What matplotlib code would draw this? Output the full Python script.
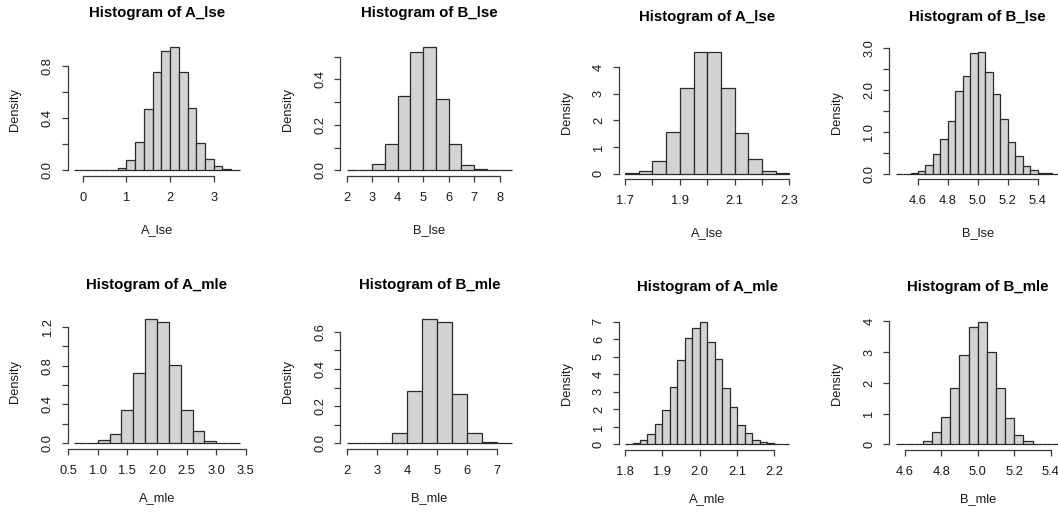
import numpy as np
import matplotlib
matplotlib.use('Agg')
import matplotlib.pyplot as plt

plt.rcParams['font.family'] = ['Liberation Sans', 'DejaVu Sans']

# ---- data (R hist() output: breaks start, bin width, densities) ----
titles = ["Histogram of A_lse", "Histogram of B_lse", "Histogram of A_lse", "Histogram of B_lse",
          "Histogram of A_mle", "Histogram of B_mle", "Histogram of A_mle", "Histogram of B_mle"]
xlabels = ["A_lse", "B_lse", "A_lse", "B_lse", "A_mle", "B_mle", "A_mle", "B_mle"]

bin_start = [-0.2, 2.0, 1.70, 4.45, 0.6, 2.0, 1.80, 4.55]
bin_width = [0.2, 0.5, 0.05, 0.05, 0.2, 0.5, 0.02, 0.05]

dens_a_lse_1 = [0, 0, 0, 0, 0.005, 0.015, 0.08, 0.22, 0.475, 0.755, 0.92, 0.945,
                0.755, 0.48, 0.213, 0.09, 0.033, 0.01, 0.002]
dens_b_lse_1 = [0, 0.003, 0.03, 0.118, 0.325, 0.52, 0.541, 0.312, 0.118, 0.025,
                0.004, 0.001, 0]
dens_a_lse_2 = [0.04, 0.11, 0.47, 1.57, 3.21, 4.57, 4.59, 3.21, 1.53, 0.54, 0.11, 0.02]
dens_b_lse_2 = [0, 0, 0.015, 0.06, 0.21, 0.48, 0.835, 1.265, 1.965, 2.32, 2.865, 2.91,
                2.42, 1.91, 1.31, 0.75, 0.41, 0.175, 0.095, 0.025, 0.015, 0]
dens_a_mle_1 = [0, 0, 0.034, 0.093, 0.348, 0.724, 1.276, 1.245, 0.803, 0.348, 0.124,
                0.024, 0.003, 0]
dens_b_mle_1 = [0, 0, 0.004, 0.058, 0.279, 0.667, 0.654, 0.265, 0.058, 0.005, 0]
dens_a_mle_2 = [0.02, 0.1, 0.23, 0.61, 1.15, 1.96, 3.30, 4.80, 6.08, 6.64, 6.99, 5.85,
                4.89, 3.24, 2.11, 1.09, 0.67, 0.27, 0.12, 0.06, 0.02, 0.0]
dens_b_mle_2 = [0, 0, 0.02, 0.1, 0.41, 0.9, 1.82, 2.91, 3.83, 3.98, 3.0, 1.82, 0.86,
                0.32, 0.1, 0.03, 0.005, 0]
densities = [dens_a_lse_1, dens_b_lse_1, dens_a_lse_2, dens_b_lse_2,
             dens_a_mle_1, dens_b_mle_1, dens_a_mle_2, dens_b_mle_2]

xticks = [[0, 1, 2, 3],
          [2, 3, 4, 5, 6, 7, 8],
          [1.7, 1.8, 1.9, 2.0, 2.1, 2.2, 2.3],
          [4.6, 4.8, 5.0, 5.2, 5.4],
          [0.5, 1.0, 1.5, 2.0, 2.5, 3.0, 3.5],
          [2, 3, 4, 5, 6, 7],
          [1.8, 1.9, 2.0, 2.1, 2.2],
          [4.6, 4.8, 5.0, 5.2, 5.4]]
xticklabels = [["0", "1", "2", "3"],
               ["2", "3", "4", "5", "6", "7", "8"],
               ["1.7", "", "1.9", "", "2.1", "", "2.3"],
               ["4.6", "4.8", "5.0", "5.2", "5.4"],
               ["0.5", "1.0", "1.5", "2.0", "2.5", "3.0", "3.5"],
               ["2", "3", "4", "5", "6", "7"],
               ["1.8", "1.9", "2.0", "2.1", "2.2"],
               ["4.6", "4.8", "5.0", "5.2", "5.4"]]
yticks = [[0, 0.2, 0.4, 0.6, 0.8],
          [0, 0.1, 0.2, 0.3, 0.4, 0.5],
          [0, 1, 2, 3, 4],
          [0, 0.5, 1.0, 1.5, 2.0, 2.5, 3.0],
          [0, 0.2, 0.4, 0.6, 0.8, 1.0, 1.2],
          [0, 0.1, 0.2, 0.3, 0.4, 0.5, 0.6],
          [0, 1, 2, 3, 4, 5, 6, 7],
          [0, 1, 2, 3, 4]]
yticklabels = [["0.0", "", "0.4", "", "0.8"],
               ["0.0", "", "0.2", "", "0.4", ""],
               ["0", "1", "2", "3", "4"],
               ["0.0", "", "1.0", "", "2.0", "", "3.0"],
               ["0.0", "", "0.4", "", "0.8", "", "1.2"],
               ["0.0", "", "0.2", "", "0.4", "", "0.6"],
               ["0", "1", "2", "3", "4", "5", "6", "7"],
               ["0", "1", "2", "3", "4"]]

# ---- layout (pixels: left, top, width, height) ----
W, H = 1058, 515
boxes = [(67.5, 42.4, 179, 133.5), (340, 42.4, 179, 133.5),
         (618.5, 46.7, 177.5, 132.5), (889, 46.7, 177.5, 132.5),
         (67.5, 314.4, 179, 134.5), (340, 314.4, 179, 134.5),
         (618.5, 317, 177.5, 133), (889, 317, 177.5, 133)]

TXT = '#1a1a1a'
LINE = '#3a3a3a'

fig = plt.figure(figsize=(W / 100, H / 100), dpi=100)
fig.patch.set_facecolor('white')

for i in range(8):
    l, t, w, h = boxes[i]
    ax = fig.add_axes([l / W, 1 - (t + h) / H, w / W, h / H])
    dens = np.array(densities[i], dtype=float)
    n = len(dens)
    edges = bin_start[i] + bin_width[i] * np.arange(n + 1)
    ax.bar(edges[:-1], dens, width=bin_width[i], align='edge',
           color='#D3D3D3', edgecolor='#2a2a2a', linewidth=0.9)
    r = edges[-1] - edges[0]
    ax.set_xlim(edges[0] - 0.04 * r, edges[-1] + 0.04 * r)
    m = dens.max()
    ax.set_ylim(-0.045 * m, 1.04 * m)

    for s in ['top', 'right']:
        ax.spines[s].set_visible(False)
    for s in ['left', 'bottom']:
        ax.spines[s].set_color(LINE)
        ax.spines[s].set_linewidth(0.9)
    ax.spines['left'].set_bounds(yticks[i][0], yticks[i][-1])
    ax.spines['bottom'].set_bounds(xticks[i][0], xticks[i][-1])

    ax.set_xticks(xticks[i])
    ax.set_xticklabels(xticklabels[i])
    ax.set_yticks(yticks[i])
    ax.set_yticklabels(yticklabels[i], rotation=90, va='center')
    ax.tick_params(axis='both', direction='out', length=4.3, width=0.9,
                   color=LINE, labelcolor=TXT, labelsize=9.3)
    ax.tick_params(axis='x', pad=7)
    ax.tick_params(axis='y', pad=5.5)
    ax.set_facecolor('none')

    ax.text(0.5, 1 + 29.5 / h, titles[i], transform=ax.transAxes, ha='center',
            va='center', fontsize=10.8, fontweight='bold', color='black')
    xl_off = 54 if i < 4 else 49.5
    ax.set_xlabel(xlabels[i], fontsize=9.3, color=TXT, va='center')
    ax.xaxis.set_label_coords(0.5, -xl_off / h)
    ax.set_ylabel("Density", fontsize=9.3, color=TXT, va='center')
    ax.yaxis.set_label_coords(-52 / w, 0.5)

fig.savefig('out.png', dpi=100)
